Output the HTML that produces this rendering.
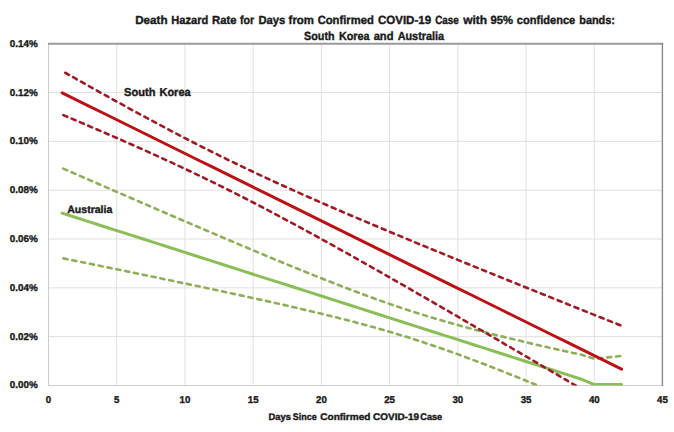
<!DOCTYPE html>
<html><head><meta charset="utf-8"><style>
html,body{margin:0;padding:0;background:#fff;}
body{width:674px;height:432px;overflow:hidden;}
svg{display:block;font-family:"Liberation Sans",sans-serif;font-weight:bold;text-rendering:geometricPrecision;}
</style></head><body>
<svg width="674" height="432" viewBox="0 0 674 432">
<rect width="674" height="432" fill="#fff"/>
<defs><clipPath id="pa"><rect x="48.5" y="43.7" width="614" height="341.80"/></clipPath></defs>
<g stroke="#e0e0e0" stroke-width="1" fill="none"><line x1="48.5" y1="336.67" x2="662.5" y2="336.67"/><line x1="48.5" y1="287.84" x2="662.5" y2="287.84"/><line x1="48.5" y1="239.01" x2="662.5" y2="239.01"/><line x1="48.5" y1="190.19" x2="662.5" y2="190.19"/><line x1="48.5" y1="141.36" x2="662.5" y2="141.36"/><line x1="48.5" y1="92.53" x2="662.5" y2="92.53"/><line x1="116.72" y1="43.70" x2="116.72" y2="385.5"/><line x1="184.94" y1="43.70" x2="184.94" y2="385.5"/><line x1="253.17" y1="43.70" x2="253.17" y2="385.5"/><line x1="321.39" y1="43.70" x2="321.39" y2="385.5"/><line x1="389.61" y1="43.70" x2="389.61" y2="385.5"/><line x1="457.83" y1="43.70" x2="457.83" y2="385.5"/><line x1="526.06" y1="43.70" x2="526.06" y2="385.5"/><line x1="594.28" y1="43.70" x2="594.28" y2="385.5"/></g>
<line x1="48.5" y1="43.7" x2="48.5" y2="385.5" stroke="#cccccc" stroke-width="1"/>
<line x1="48" y1="385.5" x2="662.5" y2="385.5" stroke="#d0d0d0" stroke-width="1"/>
<line x1="48" y1="43.7" x2="663.2" y2="43.7" stroke="#9a9a9a" stroke-width="2"/>
<line x1="662.4" y1="43" x2="662.4" y2="386" stroke="#8a8a8a" stroke-width="1.4"/>
<g clip-path="url(#pa)" fill="none" stroke-linejoin="round">
<path d="M62.14,168.12 L75.79,174.07 L89.43,180.00 L103.08,185.94 L116.72,191.86 L130.37,197.77 L144.01,203.68 L157.66,209.57 L171.30,215.45 L184.94,221.32 L198.59,227.17 L212.23,233.00 L225.88,238.80 L239.52,244.58 L253.17,250.33 L266.81,256.04 L280.46,261.70 L294.10,267.31 L307.74,272.86 L321.39,278.33 L335.03,283.71 L348.68,288.97 L362.32,294.11 L375.97,299.10 L389.61,303.91 L403.26,308.54 L416.90,312.97 L430.54,317.19 L444.19,321.22 L457.83,325.07 L471.48,328.76 L485.12,332.30 L498.77,335.72 L512.41,339.03 L526.06,342.26 L539.70,345.42 L553.34,348.51 L566.99,351.56 L580.63,354.57 L594.28,358.81 L607.92,357.39 L621.57,355.94" stroke="#8fae5a" stroke-width="2.6" stroke-dasharray="4.2 4.835" stroke-dashoffset="7.735" stroke-linecap="round"/>
<path d="M62.14,258.10 L75.79,260.88 L89.43,263.67 L103.08,266.47 L116.72,269.27 L130.37,272.09 L144.01,274.91 L157.66,277.75 L171.30,280.60 L184.94,283.46 L198.59,286.34 L212.23,289.24 L225.88,292.16 L239.52,295.11 L253.17,298.10 L266.81,301.11 L280.46,304.18 L294.10,307.30 L307.74,310.48 L321.39,313.74 L335.03,317.09 L348.68,320.55 L362.32,324.14 L375.97,327.89 L389.61,331.80 L403.26,335.90 L416.90,340.20 L430.54,344.70 L444.19,349.40 L457.83,354.28 L471.48,359.33 L485.12,364.52 L498.77,369.83 L512.41,375.24 L526.06,380.74 L539.70,386.31 L553.34,391.94 L566.99,397.63 L580.63,403.35 L594.28,409.11 L607.92,414.90 L621.57,420.71" stroke="#8fae5a" stroke-width="2.6" stroke-dasharray="4.2 4.800" stroke-dashoffset="7.700" stroke-linecap="round"/>
<path d="M62.14,213.11 L75.79,217.47 L89.43,221.84 L103.08,226.20 L116.72,230.57 L130.37,234.93 L144.01,239.30 L157.66,243.66 L171.30,248.02 L184.94,252.39 L198.59,256.75 L212.23,261.12 L225.88,265.48 L239.52,269.85 L253.17,274.21 L266.81,278.58 L280.46,282.94 L294.10,287.30 L307.74,291.67 L321.39,296.03 L335.03,300.40 L348.68,304.76 L362.32,309.13 L375.97,313.49 L389.61,317.86 L403.26,322.22 L416.90,326.58 L430.54,330.95 L444.19,335.31 L457.83,339.68 L471.48,344.04 L485.12,348.41 L498.77,352.77 L512.41,357.14 L526.06,361.50 L539.70,365.86 L553.34,370.23 L566.99,374.59 L580.63,378.96 L594.28,384.60 L607.92,384.60 L621.57,384.60" stroke="#8cbe58" stroke-width="3" stroke-linecap="round"/>
<path d="M62.14,70.97 L75.79,78.70 L89.43,86.38 L103.08,94.01 L116.72,101.57 L130.37,109.07 L144.01,116.48 L157.66,123.81 L171.30,131.03 L184.94,138.14 L198.59,145.14 L212.23,152.01 L225.88,158.75 L239.52,165.37 L253.17,171.86 L266.81,178.23 L280.46,184.50 L294.10,190.66 L307.74,196.73 L321.39,202.72 L335.03,208.64 L348.68,214.49 L362.32,220.30 L375.97,226.05 L389.61,231.76 L403.26,237.44 L416.90,243.09 L430.54,248.71 L444.19,254.30 L457.83,259.87 L471.48,265.43 L485.12,270.97 L498.77,276.49 L512.41,282.00 L526.06,287.50 L539.70,292.99 L553.34,298.47 L566.99,303.94 L580.63,309.40 L594.28,314.86 L607.92,320.31 L621.57,325.75" stroke="#9e1a24" stroke-width="2.6" stroke-dasharray="4.2 4.849" stroke-dashoffset="5.449" stroke-linecap="round"/>
<path d="M62.14,114.65 L75.79,120.41 L89.43,126.21 L103.08,132.06 L116.72,137.98 L130.37,143.96 L144.01,150.03 L157.66,156.19 L171.30,162.44 L184.94,168.81 L198.59,175.30 L212.23,181.91 L225.88,188.65 L239.52,195.51 L253.17,202.50 L266.81,209.61 L280.46,216.83 L294.10,224.15 L307.74,231.56 L321.39,239.05 L335.03,246.61 L348.68,254.23 L362.32,261.91 L375.97,269.64 L389.61,277.41 L403.26,285.21 L416.90,293.04 L430.54,300.91 L444.19,308.79 L457.83,316.70 L471.48,324.63 L485.12,332.57 L498.77,340.53 L512.41,348.50 L526.06,356.48 L539.70,364.47 L553.34,372.47 L566.99,380.48 L580.63,388.50 L594.28,396.53 L607.92,404.56 L621.57,412.59" stroke="#9e1a24" stroke-width="2.6" stroke-dasharray="4.2 4.800" stroke-dashoffset="7.700" stroke-linecap="round"/>
<path d="M62.14,92.81 L75.79,99.55 L89.43,106.29 L103.08,113.03 L116.72,119.78 L130.37,126.52 L144.01,133.26 L157.66,140.00 L171.30,146.74 L184.94,153.48 L198.59,160.22 L212.23,166.96 L225.88,173.70 L239.52,180.44 L253.17,187.18 L266.81,193.92 L280.46,200.66 L294.10,207.40 L307.74,214.14 L321.39,220.88 L335.03,227.62 L348.68,234.36 L362.32,241.10 L375.97,247.84 L389.61,254.58 L403.26,261.33 L416.90,268.07 L430.54,274.81 L444.19,281.55 L457.83,288.29 L471.48,295.03 L485.12,301.77 L498.77,308.51 L512.41,315.25 L526.06,321.99 L539.70,328.73 L553.34,335.47 L566.99,342.21 L580.63,348.95 L594.28,355.69 L607.92,362.43 L621.57,369.17" stroke="#bb1116" stroke-width="3" stroke-linecap="round"/>
</g>
<g fill="#1a1a1a" stroke="#1a1a1a" stroke-width="0.35" font-size="9.9"><text x="9.8" y="387.90" textLength="28" lengthAdjust="spacingAndGlyphs">0.00%</text><text x="9.8" y="339.50" textLength="28" lengthAdjust="spacingAndGlyphs">0.02%</text><text x="9.8" y="290.60" textLength="28" lengthAdjust="spacingAndGlyphs">0.04%</text><text x="9.8" y="241.50" textLength="28" lengthAdjust="spacingAndGlyphs">0.06%</text><text x="9.8" y="192.85" textLength="28" lengthAdjust="spacingAndGlyphs">0.08%</text><text x="9.8" y="144.30" textLength="28" lengthAdjust="spacingAndGlyphs">0.10%</text><text x="9.8" y="95.65" textLength="28" lengthAdjust="spacingAndGlyphs">0.12%</text><text x="9.8" y="47.10" textLength="28" lengthAdjust="spacingAndGlyphs">0.14%</text></g>
<g fill="#1a1a1a" stroke="#1a1a1a" stroke-width="0.35" font-size="9.9"><text x="45.80" y="403.3" textLength="5.4" lengthAdjust="spacingAndGlyphs">0</text><text x="114.02" y="403.3" textLength="5.4" lengthAdjust="spacingAndGlyphs">5</text><text x="179.54" y="403.3" textLength="10.8" lengthAdjust="spacingAndGlyphs">10</text><text x="247.77" y="403.3" textLength="10.8" lengthAdjust="spacingAndGlyphs">15</text><text x="315.99" y="403.3" textLength="10.8" lengthAdjust="spacingAndGlyphs">20</text><text x="384.21" y="403.3" textLength="10.8" lengthAdjust="spacingAndGlyphs">25</text><text x="452.43" y="403.3" textLength="10.8" lengthAdjust="spacingAndGlyphs">30</text><text x="520.66" y="403.3" textLength="10.8" lengthAdjust="spacingAndGlyphs">35</text><text x="588.88" y="403.3" textLength="10.8" lengthAdjust="spacingAndGlyphs">40</text><text x="657.10" y="403.3" textLength="10.8" lengthAdjust="spacingAndGlyphs">45</text></g>
<g fill="#1a1a1a" stroke="#1a1a1a" stroke-width="0.4">
<text x="135.22" y="23.8" font-size="11.8" textLength="32.30" lengthAdjust="spacingAndGlyphs">Death</text>
<text x="171.36" y="23.8" font-size="11.8" textLength="36.87" lengthAdjust="spacingAndGlyphs">Hazard</text>
<text x="212.05" y="23.8" font-size="11.8" textLength="24.33" lengthAdjust="spacingAndGlyphs">Rate</text>
<text x="239.92" y="23.8" font-size="11.8" textLength="14.14" lengthAdjust="spacingAndGlyphs">for</text>
<text x="258.45" y="23.8" font-size="11.8" textLength="26.71" lengthAdjust="spacingAndGlyphs">Days</text>
<text x="288.60" y="23.8" font-size="11.8" textLength="25.40" lengthAdjust="spacingAndGlyphs">from</text>
<text x="317.64" y="23.8" font-size="11.8" textLength="56.20" lengthAdjust="spacingAndGlyphs">Confirmed</text>
<text x="377.93" y="23.8" font-size="11.8" textLength="53.20" lengthAdjust="spacingAndGlyphs">COVID-19</text>
<text x="435.20" y="23.8" font-size="11.8" textLength="23.54" lengthAdjust="spacingAndGlyphs">Case</text>
<text x="463.24" y="23.8" font-size="11.8" textLength="23.91" lengthAdjust="spacingAndGlyphs">with</text>
<text x="490.61" y="23.8" font-size="11.8" textLength="22.49" lengthAdjust="spacingAndGlyphs">95%</text>
<text x="516.87" y="23.8" font-size="11.8" textLength="58.41" lengthAdjust="spacingAndGlyphs">confidence</text>
<text x="579.28" y="23.8" font-size="11.8" textLength="35.66" lengthAdjust="spacingAndGlyphs">bands:</text>
<text x="304.09" y="39.8" font-size="11.8" textLength="30.48" lengthAdjust="spacingAndGlyphs">South</text>
<text x="338.88" y="39.8" font-size="11.8" textLength="30.65" lengthAdjust="spacingAndGlyphs">Korea</text>
<text x="373.67" y="39.8" font-size="11.8" textLength="19.86" lengthAdjust="spacingAndGlyphs">and</text>
<text x="397.63" y="39.8" font-size="11.8" textLength="46.50" lengthAdjust="spacingAndGlyphs">Australia</text>
<text x="268.47" y="420.0" font-size="9.6" textLength="22.41" lengthAdjust="spacingAndGlyphs">Days</text>
<text x="292.84" y="420.0" font-size="9.6" textLength="23.76" lengthAdjust="spacingAndGlyphs">Since</text>
<text x="320.29" y="420.0" font-size="9.6" textLength="50.07" lengthAdjust="spacingAndGlyphs">Confirmed</text>
<text x="373.09" y="420.0" font-size="9.6" textLength="45.88" lengthAdjust="spacingAndGlyphs">COVID-19</text>
<text x="420.33" y="420.0" font-size="9.6" textLength="21.68" lengthAdjust="spacingAndGlyphs">Case</text>
<text x="124.08" y="95.6" font-size="11.5" textLength="31.41" lengthAdjust="spacingAndGlyphs">South</text>
<text x="159.46" y="95.6" font-size="11.5" textLength="31.17" lengthAdjust="spacingAndGlyphs">Korea</text>
<text x="67.24" y="212.8" font-size="10.6" textLength="45.10" lengthAdjust="spacingAndGlyphs">Australia</text>
</g>
</svg>
</body></html>
